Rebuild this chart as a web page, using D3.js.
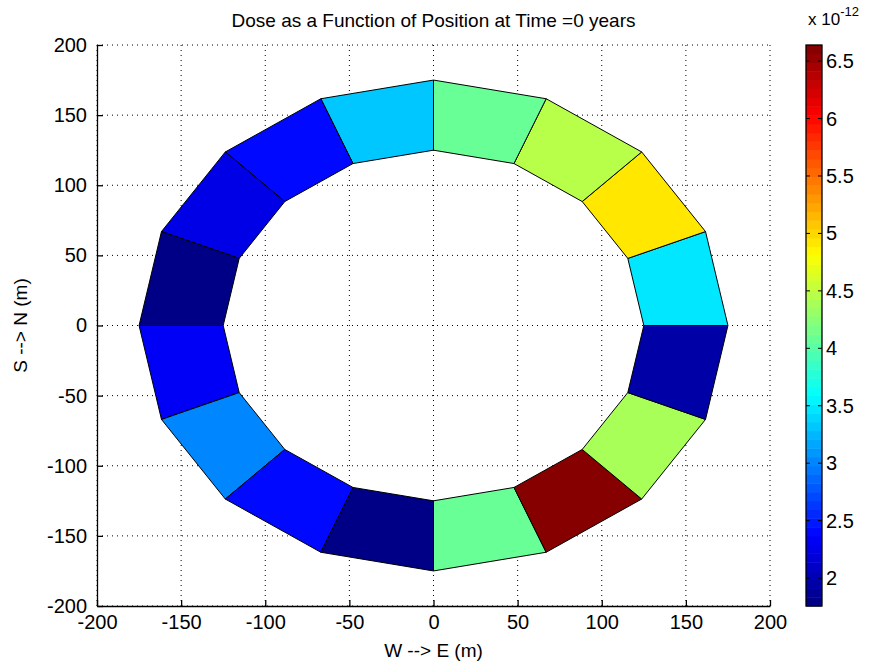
<!DOCTYPE html>
<html><head><meta charset="utf-8">
<script src="https://cdn.jsdelivr.net/npm/d3@7"></script>
<style>
body{margin:0;background:#fff;}
svg{display:block;font-family:"Liberation Sans",Arial,Helvetica,sans-serif;}
</style></head>
<body>
<svg id="chart" width="885" height="670"></svg>
<script>
// ---- data ----
const sectorStartDeg = [0,22.5,45,67.5,90,112.5,135,157.5,180,202.5,225,247.5,270,292.5,315,337.5];
const sectorWidthDeg = 22.5;
const innerRadius = 125;
const outerRadius = 175;
// dose values (x 1e-12) for each sector, counter-clockwise from east
const doseValues = [3.47,4.93,4.43,4.05,3.32,2.44,2.28,1.78,2.36,3.00,2.40,1.757,4.07,6.64,4.40,1.95];
const axisTicks = [-200,-150,-100,-50,0,50,100,150,200];
const colorbarTicks = [2,2.5,3,3.5,4,4.5,5,5.5,6,6.5];
const titleText = "Dose as a Function of Position at Time =0 years";
const xLabel = "W --> E (m)";
const yLabel = "S --> N (m)";

// ---- layout ----
const svg = d3.select("#chart");
const L = 97, R = 770, T = 45, B = 606;
const x = d3.scaleLinear().domain([-200,200]).range([L,R]);
const y = d3.scaleLinear().domain([-200,200]).range([B,T]);

// jet colormap (64)
function jet(n){
  const out=[];
  for(let i=0;i<n;i++){
    const t=(i+0.5)/n*4;
    const r=Math.max(0,Math.min(1,Math.min(t-1.5,-t+4.5)));
    const g=Math.max(0,Math.min(1,Math.min(t-0.5,-t+3.5)));
    const b=Math.max(0,Math.min(1,Math.min(t+0.5,-t+2.5)));
    out.push(d3.rgb(r*255,g*255,b*255).toString());
  }
  return out;
}
const cmap = jet(64);
const [cmin,cmax] = d3.extent(doseValues);
const cscale = d3.scaleQuantize().domain([cmin,cmax]).range(cmap);
const fmt = d => String(d);

// grid
const grid = svg.append("g");
axisTicks.forEach(t=>{
  grid.append("line").attr("x1",x(t)).attr("x2",x(t)).attr("y1",T).attr("y2",B)
    .attr("stroke","#000").attr("stroke-width",1).attr("stroke-dasharray","1,4");
  grid.append("line").attr("x1",L).attr("x2",R).attr("y1",y(t)).attr("y2",y(t))
    .attr("stroke","#000").attr("stroke-width",1).attr("stroke-dasharray","1,4");
});

// sectors
const rad = d=>d*Math.PI/180;
const sectors = sectorStartDeg.map((a,i)=>{
  const a0=rad(a), a1=rad(a+sectorWidthDeg);
  const pts=[[outerRadius*Math.cos(a0),outerRadius*Math.sin(a0)],
             [outerRadius*Math.cos(a1),outerRadius*Math.sin(a1)],
             [innerRadius*Math.cos(a1),innerRadius*Math.sin(a1)],
             [innerRadius*Math.cos(a0),innerRadius*Math.sin(a0)]];
  return {pts, v:doseValues[i]};
});
svg.append("g").selectAll("polygon").data(sectors).join("polygon")
  .attr("points",d=>d.pts.map(p=>x(p[0])+","+y(p[1])).join(" "))
  .attr("fill",d=>cscale(d.v))
  .attr("stroke","#000").attr("stroke-width",1).attr("stroke-linejoin","round");

// axes
const fs = 20;
const xAxis = d3.axisBottom(x).tickValues(axisTicks).tickFormat(fmt).tickSizeInner(-6).tickSizeOuter(0).tickPadding(10);
const gx = svg.append("g").attr("transform",`translate(0,${B})`).call(xAxis);
const yAxis = d3.axisLeft(y).tickValues(axisTicks).tickFormat(fmt).tickSizeInner(-6).tickSizeOuter(0).tickPadding(10);
const gy = svg.append("g").attr("transform",`translate(${L},0)`).call(yAxis);
[gx,gy].forEach(g=>{
  g.select(".domain").attr("stroke","#000").attr("stroke-width",1.3);
  g.selectAll(".tick line").attr("stroke","#000").attr("stroke-width",1.3);
  g.selectAll(".tick text").attr("fill","#000").style("font-size",fs+"px").style("font-family","'Liberation Sans',Arial,sans-serif");
});
gx.selectAll(".tick text").attr("dy","0.85em").attr("y",6);

// title and labels
svg.append("text").attr("x",(L+R)/2).attr("y",27).attr("text-anchor","middle")
  .style("font-size","19px").text(titleText);
svg.append("text").attr("x",(L+R)/2).attr("y",657).attr("text-anchor","middle")
  .style("font-size","19px").text(xLabel);
svg.append("text").attr("transform",`translate(27,${(T+B)/2}) rotate(-90)`).attr("text-anchor","middle")
  .style("font-size","19px").text(yLabel);

// colorbar
const CL = 806, CR = 822;
const cy = d3.scaleLinear().domain([cmin,cmax]).range([B,T]);
const cb = svg.append("g");
const step = (cmax-cmin)/64;
cb.selectAll("rect").data(cmap).join("rect")
  .attr("x",CL).attr("width",CR-CL)
  .attr("y",(d,i)=>cy(cmin+(i+1)*step))
  .attr("height",(d,i)=>cy(cmin+i*step)-cy(cmin+(i+1)*step)+0.5)
  .attr("fill",d=>d);
cb.append("rect").attr("x",CL).attr("y",T).attr("width",CR-CL).attr("height",B-T)
  .attr("fill","none").attr("stroke","#000").attr("stroke-width",1.3);
colorbarTicks.forEach(t=>{
  cb.append("line").attr("x1",CL).attr("x2",CL+4).attr("y1",cy(t)).attr("y2",cy(t)).attr("stroke","#000");
  cb.append("line").attr("x1",CR-4).attr("x2",CR).attr("y1",cy(t)).attr("y2",cy(t)).attr("stroke","#000");
  cb.append("text").attr("x",CR+4).attr("y",cy(t)).attr("dy","0.35em").style("font-size",fs+"px").text(fmt(t));
});
const ex = cb.append("text").attr("x",808).attr("y",25).style("font-size","17px");
ex.append("tspan").text("x 10");
ex.append("tspan").attr("dy",-9).style("font-size","13px").text("-12");
</script>
</body></html>
